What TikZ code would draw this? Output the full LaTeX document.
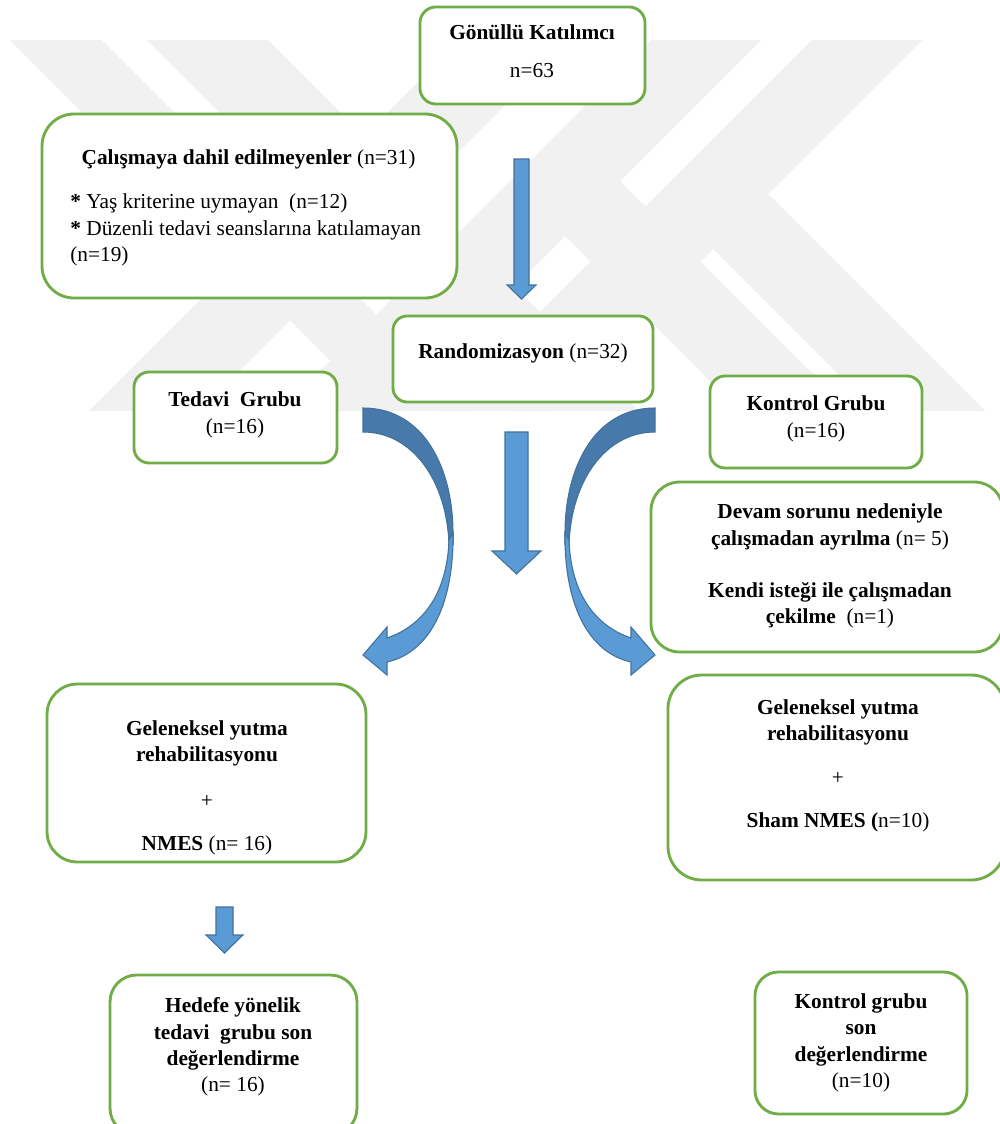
\documentclass[tikz,border=0pt]{standalone}
\usepackage{fontspec}
\setmainfont{Liberation Serif}

\definecolor{boxgreen}{RGB}{112,173,71}
\definecolor{arrowfill}{RGB}{91,155,213}
\definecolor{arrowdark}{RGB}{71,122,170}
\definecolor{arrowline}{RGB}{65,113,156}
\definecolor{wmgray}{RGB}{241,241,241}

\tikzset{
    box/.style={draw=boxgreen, line width=1.6pt, fill=white, inner sep=0pt, outer sep=0pt},
    txt/.style={align=center, inner sep=0pt, font=\fontsize{12}{14.9}\selectfont},
    blockarrow/.style={fill=arrowfill, draw=arrowline, line width=0.6pt, line join=miter},
    watermark/.style={fill=wmgray},
    curvedarrow/.pic={
        % back half
        \draw[blockarrow, fill=arrowdark] (363,408) .. controls (425,408) and (453,470) .. (453,533)
            -- (453,545) -- (449,545) .. controls (447,480) and (412,432) .. (363,432) -- cycle;
        % front half with head
        \draw[blockarrow] (449,540) -- (453,533) .. controls (454,600) and (432,652) .. (387,662)
            -- (387,675) -- (363,655) -- (387,627) -- (387,638)
            .. controls (422,626) and (447,595) .. (449,540) -- cycle;
    }
}

% x, top, head start, tip, shaft half width, head half width
\newcommand{\downblock}[6]{%
    \draw[blockarrow] (#1-#5,#2) -- (#1+#5,#2) -- (#1+#5,#3) -- (#1+#6,#3)
        -- (#1,#4) -- (#1-#6,#3) -- (#1-#5,#3) -- cycle;}

\begin{document}
\begin{tikzpicture}[x=0.5625pt, y=-0.5625pt]
        \useasboundingbox (0,0) rectangle (1000,1124);
        \clip (0,0) rectangle (1000,1124);
        \fill[white] (0,0) rectangle (1000,1124);

        % Watermark
        \fill[watermark] (10,40) -- (102,40) -- (473,411) -- (381,411) -- cycle;
        \fill[watermark] (147,40) -- (268,40) -- (639,411) -- (518,411) -- cycle;
        \fill[watermark] (89,411) -- (199,411) -- (570,40) -- (460,40) -- cycle;
        \fill[watermark] (280,411) -- (390,411) -- (761,40) -- (651,40) -- cycle;
        \fill[watermark] (441,411) -- (551,411) -- (922,40) -- (812,40) -- cycle;
        \fill[watermark] (620,181) -- (850,411) -- (740,411) -- (565,236) -- cycle;
        \fill[watermark] (768,194) -- (985,411) -- (875,411) -- (713,249) -- cycle;

        % Boxes
        \node[box, minimum width=126.6pt, minimum height=54.6pt, rounded corners=9pt] (gonullu) at (532.5,55.5) {};
        \node[box, minimum width=233.4pt, minimum height=103.5pt, rounded corners=18pt] (dahil) at (249.5,206) {};
        \node[box, minimum width=146.3pt, minimum height=48.4pt, rounded corners=8pt] (random) at (523,359) {};
        \node[box, minimum width=114.2pt, minimum height=51.2pt, rounded corners=8.5pt] (tedavi) at (235.5,417.5) {};
        \node[box, minimum width=119.3pt, minimum height=51.8pt, rounded corners=8.6pt] (kontrol) at (816,422) {};
        \node[box, minimum width=198pt, minimum height=95.6pt, rounded corners=16pt] (devam) at (827,567) {};
        \node[box, minimum width=179.4pt, minimum height=100.1pt, rounded corners=17pt] (gelsol) at (206.5,773) {};
        \node[box, minimum width=189.6pt, minimum height=115.3pt, rounded corners=19pt] (gelsag) at (836.5,777.5) {};
        \node[box, minimum width=138.9pt, minimum height=90pt, rounded corners=15pt] (hedef) at (233.5,1055) {};
        \node[box, minimum width=119.3pt, minimum height=79.9pt, rounded corners=13.3pt] (kontson) at (861,1043) {};

        % Labels
        \node[txt] (gonullutxt) at (532,51) {\textbf{Gönüllü Katılımcı}\\[6.5pt] n=63};
        \node[txt] (dahiltxt) at (248.5,159) {\textbf{Çalışmaya dahil edilmeyenler} (n=31)};
        \node[txt, align=left, anchor=west] (dahillist) at (70,230)
            {\textbf{*} Yaş kriterine uymayan\ \ (n=12)\\ \textbf{*} Düzenli tedavi seanslarına katılamayan\\ (n=19)};
        \node[txt] (randomtxt) at (523,353) {\textbf{Randomizasyon} (n=32)};
        \node[txt] (tedavitxt) at (235,415) {\textbf{Tedavi\ \ Grubu}\\ (n=16)};
        \node[txt] (kontroltxt) at (816,419) {\textbf{Kontrol Grubu}\\ (n=16)};
        \node[txt] (devamtxt) at (830,566) {\textbf{Devam sorunu nedeniyle}\\ \textbf{çalışmadan ayrılma} (n= 5)\\[14.4pt]
            \textbf{Kendi isteği ile çalışmadan}\\ \textbf{çekilme}\ \ (n=1)};
        \node[txt] (gelsoltxt) at (207,788) {\textbf{Geleneksel yutma}\\ \textbf{rehabilitasyonu}\\[11pt] +\\[9.3pt] \textbf{NMES} (n= 16)};
        \node[txt] (gelsagtxt) at (838,766) {\textbf{Geleneksel yutma}\\ \textbf{rehabilitasyonu}\\[9.9pt] +\\[9.3pt] \textbf{Sham NMES (}n=10)};
        \node[txt] (hedeftxt) at (233,1047) {\textbf{Hedefe yönelik}\\ \textbf{tedavi\ \ grubu son}\\ \textbf{değerlendirme}\\ (n= 16)};
        \node[txt] (kontsontxt) at (861,1043) {\textbf{Kontrol grubu}\\ \textbf{son}\\ \textbf{değerlendirme}\\ (n=10)};

        % Arrows
        \downblock{521.5}{159}{285}{299}{7.5}{14.5}
        \downblock{516.5}{432}{551}{574}{11.5}{24.5}
        \downblock{224.5}{907}{935}{953}{8.5}{18.5}
        \pic at (0,0) {curvedarrow};
        \pic[xscale=-1] at (1018,0) {curvedarrow};
    \end{tikzpicture}
\end{document}
